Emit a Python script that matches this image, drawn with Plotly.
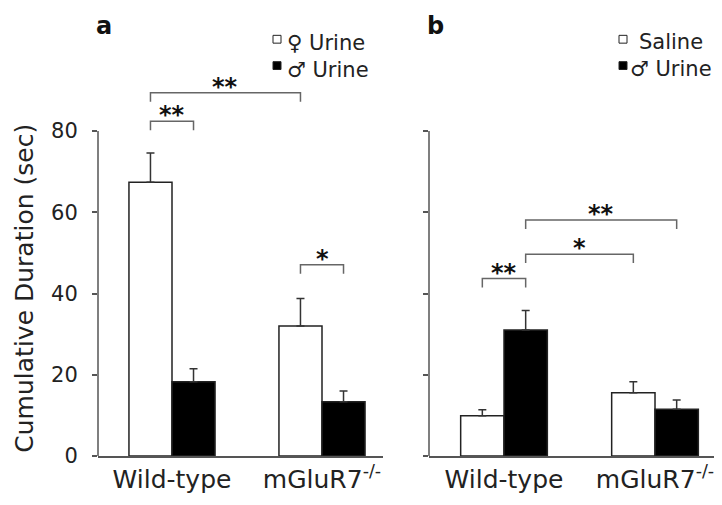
import plotly.graph_objects as go

# ---------------- data ----------------
groups = ["Wild-type", "mGluR7<sup>-/-</sup>"]

# panel a
a_female = [67.4, 32.0]
a_female_err = [7.2, 6.8]
a_male = [18.3, 13.4]
a_male_err = [3.2, 2.6]

# panel b
b_saline = [9.9, 15.6]
b_saline_err = [1.5, 2.7]
b_male = [31.0, 11.5]
b_male_err = [4.8, 2.3]

y_ticks = [0, 20, 40, 60, 80]

# significance brackets: (panel, group1, series1, group2, series2, y_top, label)
brackets = [
    ("a", 0, 0, 1, 0, 89.4, "**"),
    ("a", 0, 0, 0, 1, 82.4, "**"),
    ("a", 1, 0, 1, 1, 47.1, "*"),
    ("b", 0, 0, 0, 1, 43.7, "**"),
    ("b", 0, 1, 1, 0, 49.7, "*"),
    ("b", 0, 1, 1, 1, 58.1, "**"),
]

# ---------------- layout constants ----------------
W, H = 722, 505
FONT = "DejaVu Sans"
BW = 0.287          # bar width
YMAX = 110.27
DOM_Y = [46 / H, 1.0]
DOM_XA = [90 / W, 375 / W]
DOM_XB = [421 / W, 720 / W]
RANGE_XA = [-0.4933, 1.4067]
RANGE_XB = [-0.4967, 1.4834]
AX_COLOR = "#555555"
LEG_DROP = 2.2


def px_x(p):
    return p / W


def px_y(p):
    return (H - p) / H


xs = [0, 1]
fig = go.Figure()


def add_bars(vals, errs, offset, fill, xa, ya, name):
    fig.add_trace(go.Bar(
        x=xs, y=vals, width=BW, offset=offset, name=name,
        marker=dict(color=fill, line=dict(color="#222222", width=1.5)),
        error_y=dict(type="data", symmetric=False, array=errs,
                     arrayminus=[0] * len(errs), color="#333333",
                     thickness=1.5, width=4),
        xaxis=xa, yaxis=ya, showlegend=False,
    ))


add_bars(a_female, a_female_err, -BW, "white", "x", "y", "♀ Urine")
add_bars(a_male, a_male_err, 0, "black", "x", "y", "♂ Urine")
add_bars(b_saline, b_saline_err, -BW, "white", "x2", "y2", "Saline")
add_bars(b_male, b_male_err, 0, "black", "x2", "y2", "♂ Urine")

shapes = []
annotations = []

# brackets
for panel, g1, s1, g2, s2, ytop, lab in brackets:
    xr = "x" if panel == "a" else "x2"
    yr = "y" if panel == "a" else "y2"
    x1 = xs[g1] + (-BW / 2 if s1 == 0 else BW / 2)
    x2 = xs[g2] + (-BW / 2 if s2 == 0 else BW / 2)
    shapes.append(dict(
        type="path", xref=xr, yref=yr,
        path=f"M {x1} {ytop - LEG_DROP} L {x1} {ytop} L {x2} {ytop} L {x2} {ytop - LEG_DROP}",
        line=dict(color="#666666", width=1.5),
    ))
    annotations.append(dict(
        x=(x1 + x2) / 2, y=ytop, xref=xr, yref=yr, text=lab, showarrow=False,
        xanchor="center", yanchor="bottom", yshift=-10,
        font=dict(family=FONT, size=24, color="#111111", weight="bold"),
    ))

# y axis lines (0..80 only)
y_frac = max(y_ticks) / YMAX
for dom in (DOM_XA, DOM_XB):
    shapes.append(dict(
        type="line", xref="paper", yref="paper",
        x0=dom[0], x1=dom[0], y0=DOM_Y[0],
        y1=DOM_Y[0] + y_frac * (DOM_Y[1] - DOM_Y[0]),
        line=dict(color=AX_COLOR, width=1.5),
    ))

# legends (manual)
leg_font = dict(family=FONT, size=21, color="#222222")
legend_rows = [
    (265, 28, "white", 277, 36, "♀ Urine"),
    (265, 55, "black", 277, 63, "♂ Urine"),
    (611, 28, "white", 629, 35, "Saline"),
    (611, 55, "black", 620, 62, "♂ Urine"),
]
for sx, sy, fill, tx, ty, txt in legend_rows:
    shapes.append(dict(
        type="rect", xref="paper", yref="paper",
        x0=px_x(sx), x1=px_x(sx + 8), y0=px_y(sy + 8), y1=px_y(sy),
        fillcolor=fill, line=dict(color="#222222", width=1),
    ))
    annotations.append(dict(
        x=px_x(tx), y=px_y(ty), xref="paper", yref="paper", text=txt,
        showarrow=False, xanchor="left", yanchor="middle", font=leg_font,
    ))

# panel labels
for lx, lab in ((96, "a"), (427, "b")):
    annotations.append(dict(
        x=px_x(lx), y=px_y(18), xref="paper", yref="paper", text=lab,
        showarrow=False, xanchor="center", yanchor="middle",
        font=dict(family=FONT, size=24, color="#111111", weight="bold"),
    ))

# y title
annotations.append(dict(
    x=0, y=px_y(287), xref="paper", yref="paper",
    text="Cumulative Duration (sec)", textangle=-90, showarrow=False,
    xanchor="left", yanchor="middle",
    font=dict(family=FONT, size=25, color="#222222"),
))

xaxis_common = dict(
    tickmode="array", tickvals=xs, ticktext=groups, ticks="",
    showline=True, linecolor=AX_COLOR, linewidth=1.5, showgrid=False,
    zeroline=False, tickfont=dict(family=FONT, size=25, color="#222222"),
    fixedrange=True,
)
yaxis_common = dict(
    range=[0, YMAX], domain=DOM_Y, tickmode="array", tickvals=y_ticks,
    ticks="outside", ticklen=5, tickwidth=1.5, tickcolor=AX_COLOR,
    showline=False, showgrid=False, zeroline=False,
    tickfont=dict(family=FONT, size=21, color="#222222"),
    ticklabelstandoff=10,
)

fig.update_layout(
    width=W, height=H, margin=dict(l=0, r=0, t=0, b=0),
    paper_bgcolor="white", plot_bgcolor="rgba(0,0,0,0)",
    xaxis=dict(domain=DOM_XA, range=RANGE_XA, anchor="y", **xaxis_common),
    xaxis2=dict(domain=DOM_XB, range=RANGE_XB, anchor="y2", **xaxis_common),
    yaxis=dict(anchor="x", **yaxis_common),
    yaxis2=dict(anchor="x2", showticklabels=False, **yaxis_common),
    shapes=shapes, annotations=annotations, showlegend=False,
)

fig.write_html("out.html")
